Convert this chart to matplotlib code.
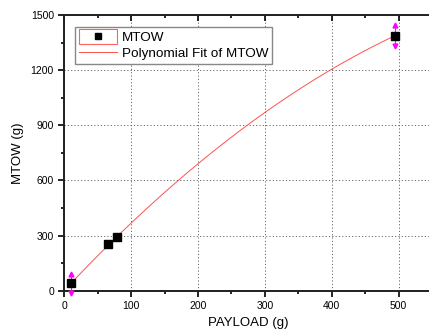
import numpy as np
import matplotlib
matplotlib.use('Agg')
import matplotlib.pyplot as plt
from matplotlib.legend_handler import HandlerBase
from matplotlib.patches import Rectangle
from matplotlib.lines import Line2D

plt.rcParams['font.family'] = ['Liberation Sans', 'DejaVu Sans']

payload = [10, 65, 79, 495]
mtow = [40, 252, 290, 1388]
mtow_err = [62, np.nan, np.nan, 66]

xlim = (0, 550)
ylim = (0, 1500)
xticks = [0, 100, 200, 300, 400, 500]
yticks = [0, 300, 600, 900, 1200, 1500]


class BoxedMarker(HandlerBase):
    # Origin-style legend symbol: marker inside a red frame
    def create_artists(self, legend, orig_handle, xdescent, ydescent,
                       width, height, fontsize, trans):
        r = Rectangle((-xdescent, -ydescent - 2), width, height + 4,
                      facecolor='white', edgecolor='#ff6060', lw=0.8,
                      transform=trans)
        m = Line2D([width / 2 - xdescent], [height / 2 - ydescent],
                   marker='s', color='black', markersize=4.5, ls='none',
                   transform=trans)
        return [r, m]


fig = plt.figure(figsize=(4.29, 3.32), dpi=100)
ax = fig.add_axes([0.150, 0.124, 0.857, 0.831])

# fit curve
coef = np.polyfit(payload, mtow, 2)
xf = np.linspace(min(payload), max(payload), 200)
fit_line, = ax.plot(xf, np.polyval(coef, xf), color='#ff5050', lw=0.7, zorder=3)

# error bars with arrow heads
err = np.array(mtow_err)
ok = ~np.isnan(err)
px = np.array(payload)[ok]
py = np.array(mtow)[ok]
pe = err[ok]
ax.vlines(px, py - pe, py + pe, color='magenta', lw=0.8, zorder=4, clip_on=False)
ax.plot(px, py + pe - 10, ls='none', marker='^', color='magenta', ms=3.5,
        zorder=4, clip_on=False)
ax.plot(px, py - pe + 10, ls='none', marker='v', color='magenta', ms=3.5,
        zorder=4, clip_on=False)

pts, = ax.plot(payload, mtow, ls='none', marker='s', color='black', ms=5.5,
               zorder=5, clip_on=False)

ax.set_xlim(*xlim)
ax.set_ylim(*ylim)
ax.set_xticks(xticks)
ax.set_yticks(yticks)
ax.set_xticks(np.arange(50, 550, 100), minor=True)
ax.set_yticks(np.arange(150, 1500, 300), minor=True)
ax.tick_params(axis='both', which='major', labelsize=7.5, width=1.2, length=4,
               direction='out')
ax.tick_params(axis='both', which='minor', width=1.2, length=2.5,
               direction='out')
ax.tick_params(axis='x', which='both', top=True)
ax.tick_params(axis='y', which='both', right=False)
for t in ax.xaxis.get_major_ticks() + ax.xaxis.get_minor_ticks():
    t.tick2line.set_marker(3)  # top ticks point inward
ax.grid(True, which='major', color='#666666', ls=(0, (1.2, 2.2)), lw=0.7)
for s in ax.spines.values():
    s.set_linewidth(1.4)
    s.set_color('#202020')
ax.spines['right'].set_visible(False)

ax.set_xlabel('PAYLOAD (g)', fontsize=9.5, labelpad=4)
ax.set_ylabel('MTOW (g)', fontsize=9.5, labelpad=5)

leg = ax.legend([pts, fit_line], ['MTOW', 'Polynomial Fit of MTOW'],
                handler_map={pts: BoxedMarker()},
                loc='upper left', bbox_to_anchor=(0.03, 0.955),
                fontsize=9.7, fancybox=False, edgecolor='#888888',
                framealpha=1, handlelength=2.8, handletextpad=0.35,
                borderpad=0.3, labelspacing=0.25, borderaxespad=0)
leg.get_frame().set_linewidth(1.0)

fig.savefig('out.png', dpi=100)
